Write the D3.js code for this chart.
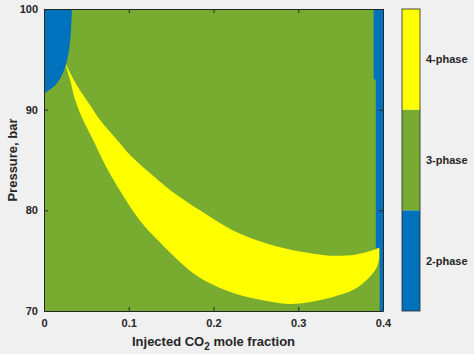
<!DOCTYPE html>
<html>
<head>
<meta charset="utf-8">
<script src="https://cdn.jsdelivr.net/npm/d3@7"></script>
<style>
  body { margin: 0; background: #f0f0f0; }
  svg { display: block; font-family: "Liberation Sans", Arial, sans-serif; }
  .axis text { font-size: 11px; font-weight: bold; fill: #262626; }
  .axis path, .axis line { stroke: #262626; }
</style>
</head>
<body>
<div id="chart"></div>
<script>
// phase categories shown on the colorbar
const phaseLevels = [1, 2, 3];
const phaseLabels = ["2-phase", "3-phase", "4-phase"];
const phaseColors = ["#0072bd", "#77ac30", "#ffff00"];

// axis ticks
const xTicks = [0, 0.1, 0.2, 0.3, 0.4];
const xTickLabels = ["0", "0.1", "0.2", "0.3", "0.4"];
const yTicks = [70, 80, 90, 100];

// left 2-phase region boundary: [CO2 fraction, pressure]
const blueLeftEdge = [
  [0.033, 100], [0.032, 97.9], [0.0295, 95.9], [0.026, 94.5],
  [0.021, 93.4], [0.014, 92.5], [0.007, 92.0], [0, 91.6]
];

// right 2-phase strip, inner edge: [CO2 fraction, pressure]
const blueRightEdge = [
  [0.389, 100], [0.389, 93], [0.3915, 93], [0.3915, 76.2],
  [0.396, 76.2], [0.396, 70]
];

// 4-phase band, upper boundary
const yellowUpper = [
  [0.026, 94.5], [0.033, 93.3], [0.0425, 91.9], [0.054, 90.5],
  [0.066, 89.0], [0.084, 87.2], [0.1015, 85.5], [0.125, 83.7],
  [0.149, 82.0], [0.184, 80.0], [0.223, 78.0], [0.263, 76.7],
  [0.302, 75.9], [0.337, 75.5], [0.367, 75.6], [0.387, 76.0],
  [0.3955, 76.3]
];

// 4-phase band, lower boundary
const yellowLower = [
  [0.026, 94.3], [0.031, 92.9], [0.0366, 91.0], [0.046, 89.0],
  [0.0566, 87.2], [0.074, 84.2], [0.093, 81.5], [0.113, 79.0],
  [0.137, 76.8], [0.160, 74.9], [0.184, 73.3], [0.223, 71.8],
  [0.263, 71.0], [0.290, 70.7], [0.314, 70.9], [0.341, 71.4],
  [0.365, 72.1], [0.381, 73.1], [0.393, 74.4], [0.3955, 75.3]
];

const width = 474, height = 354;
const plot = { left: 44, right: 383, top: 9, bottom: 311 };

const svg = d3.select("#chart").append("svg")
  .attr("width", width)
  .attr("height", height);

const x = d3.scaleLinear().domain([0, 0.4]).range([plot.left, plot.right]);
const y = d3.scaleLinear().domain([70, 100]).range([plot.bottom, plot.top]);

const line = d3.line().x(d => x(d[0])).y(d => y(d[1]));
const curve = d3.line().x(d => x(d[0])).y(d => y(d[1])).curve(d3.curveCatmullRom);

// background = 3-phase
svg.append("rect")
  .attr("x", x(0)).attr("y", y(100))
  .attr("width", x(0.4) - x(0)).attr("height", y(70) - y(100))
  .attr("fill", phaseColors[1]);

// left 2-phase region
svg.append("path")
  .attr("d", line([[0, 100]]) + "L" + curve(blueLeftEdge).slice(1) + "Z")
  .attr("fill", phaseColors[0]);

// right 2-phase strip
svg.append("path")
  .attr("d", line(blueRightEdge.concat([[0.4, 70], [0.4, 100]])) + "Z")
  .attr("fill", phaseColors[0]);

// 4-phase band
svg.append("path")
  .attr("d", curve(yellowUpper) + "L" + curve(yellowLower.slice().reverse()).slice(1) + "Z")
  .attr("fill", phaseColors[2]);

// axes (inward ticks on all four sides, MATLAB box)
svg.append("g")
  .attr("class", "axis")
  .attr("transform", `translate(0,${plot.bottom})`)
  .call(d3.axisBottom(x).tickValues(xTicks)
    .tickFormat((d, i) => xTickLabels[i])
    .tickSizeInner(-4).tickSizeOuter(0).tickPadding(8));

svg.append("g")
  .attr("class", "axis")
  .attr("transform", `translate(0,${plot.top})`)
  .call(d3.axisTop(x).tickValues(xTicks).tickFormat("")
    .tickSizeInner(-4).tickSizeOuter(0));

svg.append("g")
  .attr("class", "axis")
  .attr("transform", `translate(${plot.left},0)`)
  .call(d3.axisLeft(y).tickValues(yTicks)
    .tickSizeInner(-4).tickSizeOuter(0).tickPadding(6));

svg.append("g")
  .attr("class", "axis")
  .attr("transform", `translate(${plot.right},0)`)
  .call(d3.axisRight(y).tickValues(yTicks).tickFormat("")
    .tickSizeInner(-4).tickSizeOuter(0));

// axis labels
const xLabel = svg.append("text")
  .attr("x", (plot.left + plot.right) / 2)
  .attr("y", 346)
  .attr("text-anchor", "middle")
  .style("font-size", "13px")
  .style("font-weight", "bold")
  .style("fill", "#262626");
xLabel.append("tspan").text("Injected CO");
xLabel.append("tspan").attr("dy", 4).style("font-size", "10px").text("2");
xLabel.append("tspan").attr("dy", -4).text(" mole fraction");

svg.append("text")
  .attr("transform", `translate(12,${(plot.top + plot.bottom) / 2}) rotate(-90)`)
  .attr("text-anchor", "middle")
  .attr("dy", "0.35em")
  .style("font-size", "13px")
  .style("font-weight", "bold")
  .style("fill", "#262626")
  .text("Pressure, bar");

// colorbar
const cb = { left: 402, right: 420 };
const c = d3.scaleLinear().domain([0.5, 3.5]).range([plot.bottom, plot.top]);

svg.selectAll("rect.cb")
  .data(phaseLevels)
  .enter().append("rect")
  .attr("class", "cb")
  .attr("x", cb.left)
  .attr("y", d => c(d + 0.5))
  .attr("width", cb.right - cb.left)
  .attr("height", d => c(d - 0.5) - c(d + 0.5))
  .attr("fill", (d, i) => phaseColors[i]);

svg.append("rect")
  .attr("x", cb.left).attr("y", c(3.5))
  .attr("width", cb.right - cb.left).attr("height", c(0.5) - c(3.5))
  .attr("fill", "none").attr("stroke", "#262626").attr("stroke-width", 0.8);

svg.append("g")
  .attr("class", "axis")
  .attr("transform", `translate(${cb.right},0)`)
  .call(d3.axisRight(c).tickValues(phaseLevels)
    .tickFormat((d, i) => phaseLabels[i])
    .tickSize(0).tickPadding(6))
  .call(g => g.select(".domain").remove());
</script>
</body>
</html>
